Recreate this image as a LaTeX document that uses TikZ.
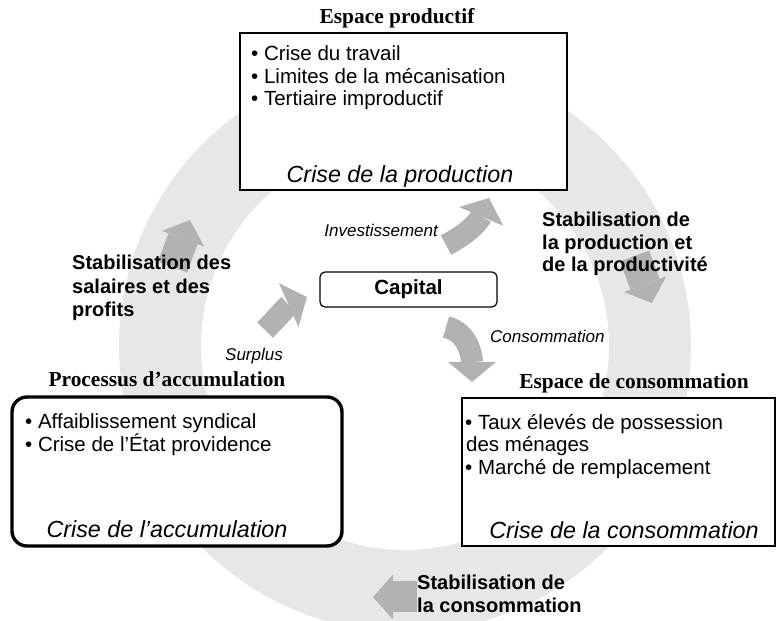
\documentclass[tikz,border=0pt]{standalone}
\usepackage{fontspec}
\setmainfont{Liberation Sans}
\newfontfamily\hdfont{Liberation Serif}
\usetikzlibrary{arrows.meta}
\definecolor{ringcol}{RGB}{231,231,231}
\definecolor{arrcol}{RGB}{178,178,178}
\begin{document}
\begin{tikzpicture}[x=1pt,y=1pt,
  blockarrow/.style={draw=arrcol, line width=31pt,
    -{Triangle[width=45pt,length=20pt,line width=0pt]}},
  curvearrow/.style={draw=arrcol, line width=22pt,
    -{Triangle[width=48pt,length=20pt,line width=0pt]}},
  sqbox/.style={draw=black, line width=2.6pt, fill=white, inner sep=0pt},
  rdbox/.style={draw=black, line width=3.4pt, fill=white, rounded corners=15pt, inner sep=0pt},
  capbox/.style={draw=black, line width=1.2pt, fill=white, rounded corners=5pt, inner sep=0pt,
    font=\bfseries\fontsize{20.5}{24}\selectfont},
  bul/.style={anchor=base west, inner sep=0pt, font=\fontsize{20.5}{24}\selectfont},
  crisis/.style={anchor=base, inner sep=0pt, font=\itshape\fontsize{23.3}{28}\selectfont},
  heading/.style={anchor=base, inner sep=0pt, font=\hdfont\bfseries\fontsize{21.4}{25}\selectfont},
  stab/.style={anchor=base west, inner sep=0pt, font=\bfseries\fontsize{20}{24}\selectfont},
  flowlabel/.style={inner sep=0pt, font=\itshape\fontsize{17}{20}\selectfont}
]
\useasboundingbox (0,0) rectangle (777,621);
\clip (0,0) rectangle (777,621);

% ring
\fill[ringcol, even odd rule] (405,275) circle (286) (405,275) circle (204);

% ring arrows
\coordinate (la1) at (172.5,354);
\coordinate (la2) at (190,401);
\coordinate (ra1) at (634.5,365);
\coordinate (ra2) at (652,318);
\coordinate (ba1) at (417,24);
\coordinate (ba2) at (373,24);
\draw[blockarrow] (la1) -- (la2);
\draw[blockarrow] (ra1) -- (ra2);
\draw[blockarrow] (ba1) -- (ba2);

% centre arrows
\coordinate (inv1) at (446,376);
\coordinate (inv2) at (489,423);
\coordinate (sur1) at (265,291);
\coordinate (sur2) at (307,324);
\coordinate (con1) at (446,294);
\coordinate (con2) at (472,239);
\draw[curvearrow] (inv1) to[out=27,in=247] (inv2);
\draw[curvearrow] (sur1) to[out=45,in=204] (sur2);
\draw[curvearrow] (con1) to[out=-13,in=90] (con2);

% boxes
\node[sqbox, minimum width=327pt, minimum height=157pt] (prod) at (403.5,509.5) {};
\node[rdbox, minimum width=330pt, minimum height=149pt] (accu) at (177,149.5) {};
\node[sqbox, minimum width=313pt, minimum height=148pt] (cons) at (618.5,149) {};
\node[capbox, minimum width=177pt, minimum height=35pt] (cap) at (408.5,331.5) {Capital};

% headings
\node[heading] (hprod) at (397,597) {Espace productif};
\node[heading] (haccu) at (167,234) {Processus d’accumulation};
\node[heading] (hcons) at (634,232) {Espace de consommation};

% production box
\node[bul] (p1) at (251,560) {• Crise du travail};
\node[bul] (p2) at (251,537) {• Limites de la mécanisation};
\node[bul] (p3) at (251,515) {• Tertiaire improductif};
\node[crisis] (pc) at (400,438) {Crise de la production};

% accumulation box
\node[bul] (a1) at (25,192) {• Affaiblissement syndical};
\node[bul] (a2) at (25,169) {• Crise de l’État providence};
\node[crisis] (ac) at (167,83) {Crise de l’accumulation};

% consumption box
\node[bul] (c1) at (465,191) {• Taux élevés de possession};
\node[bul] (c2) at (466,169) {des ménages};
\node[bul] (c3) at (465,146) {• Marché de remplacement};
\node[crisis] (cc) at (624,82) {Crise de la consommation};

% stabilisation labels
\node[stab] (s1a) at (72,351) {Stabilisation des};
\node[stab] (s1b) at (72,327) {salaires et des};
\node[stab] (s1c) at (72,304) {profits};
\node[stab] (s2a) at (542,394) {Stabilisation de};
\node[stab] (s2b) at (542,371) {la production et};
\node[stab] (s2c) at (542,349) {de la productivité};
\node[stab] (s3a) at (417,31) {Stabilisation de};
\node[stab] (s3b) at (417,8) {la consommation};

% flow labels
\node[flowlabel, anchor=base east] (linv) at (438,384) {Investissement};
\node[flowlabel, anchor=base east] (lsur) at (283,260) {Surplus};
\node[flowlabel, anchor=base west] (lcon) at (490,278) {Consommation};
\end{tikzpicture}
\end{document}
